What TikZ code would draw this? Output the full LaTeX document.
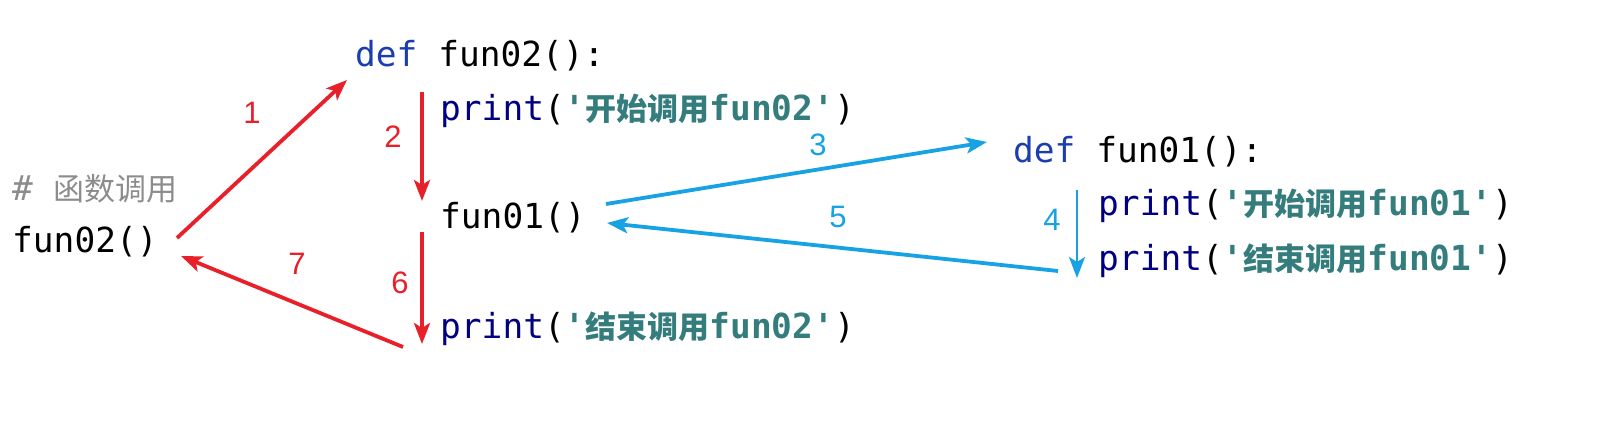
\documentclass[tikz,border=0pt]{standalone}
\usepackage{fontspec}
\setmonofont{DejaVu Sans Mono}
\setsansfont{Liberation Sans}
\newfontfamily\cjk{Noto Sans CJK SC}
\usetikzlibrary{arrows.meta}
\definecolor{redA}{HTML}{E8202A}
\definecolor{blueA}{HTML}{17A2E4}
\definecolor{kwc}{HTML}{1B3DAE}
\definecolor{fnc}{HTML}{000080}
\definecolor{strc}{HTML}{357D7D}
\definecolor{cmc}{HTML}{8C8C8C}
\newcommand\cjkpart[1]{{\cjk\bfseries\fontsize{31}{36}\selectfont #1}}
\newcommand\strpart[1]{{\color{strc}\bfseries #1}}
\begin{document}
\begin{tikzpicture}[x=1pt,y=-1pt,
  code/.style={anchor=base west,inner sep=0pt,font=\ttfamily\fontsize{34.5}{40}\selectfont},
  lbl/.style={inner sep=0pt,font=\sffamily\fontsize{31}{36}\selectfont},
  redarr/.style={draw=redA,line width=3.8pt,-{Stealth[length=21pt,width=16pt,inset=5pt]}},
  bluearr/.style={draw=blueA,line width=3.8pt,-{Stealth[length=21pt,width=16pt,inset=5pt]}}]
\useasboundingbox (0,0) rectangle (1620,426);
% code text
\node[code] (deffun02) at (355,66) {\textcolor{kwc}{def} fun02():};
\node[code] (p1) at (440,120) {\textcolor{fnc}{print}(\strpart{'\cjkpart{开始调用}fun02'})};
\node[code,text=cmc] (cm) at (12,200) {\# \cjk\fontsize{31}{36}\selectfont 函数调用};
\node[code] (call02) at (12,252) {fun02()};
\node[code] (call01) at (440,228) {fun01()};
\node[code] (p2) at (440,338) {\textcolor{fnc}{print}(\strpart{'\cjkpart{结束调用}fun02'})};
\node[code] (deffun01) at (1013,162) {\textcolor{kwc}{def} fun01():};
\node[code] (p3) at (1098,215) {\textcolor{fnc}{print}(\strpart{'\cjkpart{开始调用}fun01'})};
\node[code] (p4) at (1098,270) {\textcolor{fnc}{print}(\strpart{'\cjkpart{结束调用}fun01'})};
% arrow end points
\coordinate (a1s) at (177,238);
\coordinate (a1e) at (347,80);
\coordinate (a2s) at (422,92);
\coordinate (a2e) at (422,201);
\coordinate (a6s) at (422,232);
\coordinate (a6e) at (422,344);
\coordinate (a7s) at (403,347);
\coordinate (a7e) at (181,256);
\coordinate (a3s) at (606,204);
\coordinate (a3e) at (987,142);
\coordinate (a5s) at (1058,271);
\coordinate (a5e) at (607,223);
\coordinate (a4s) at (1077,190);
\coordinate (a4e) at (1077,278);
% arrows
\draw[redarr] (a1s) -- (a1e);
\draw[redarr] (a2s) -- (a2e);
\draw[redarr] (a6s) -- (a6e);
\draw[redarr] (a7s) -- (a7e);
\draw[bluearr] (a3s) -- (a3e);
\draw[bluearr] (a5s) -- (a5e);
\draw[bluearr,line width=2.6pt] (a4s) -- (a4e);
% labels
\node[lbl,text=redA] (l1) at (252,113) {1};
\node[lbl,text=redA] (l2) at (393,137) {2};
\node[lbl,text=redA] (l6) at (400,283) {6};
\node[lbl,text=redA] (l7) at (297,264) {7};
\node[lbl,text=blueA] (l3) at (818,145) {3};
\node[lbl,text=blueA] (l5) at (838,217) {5};
\node[lbl,text=blueA] (l4) at (1052,220) {4};
\end{tikzpicture}
\end{document}
